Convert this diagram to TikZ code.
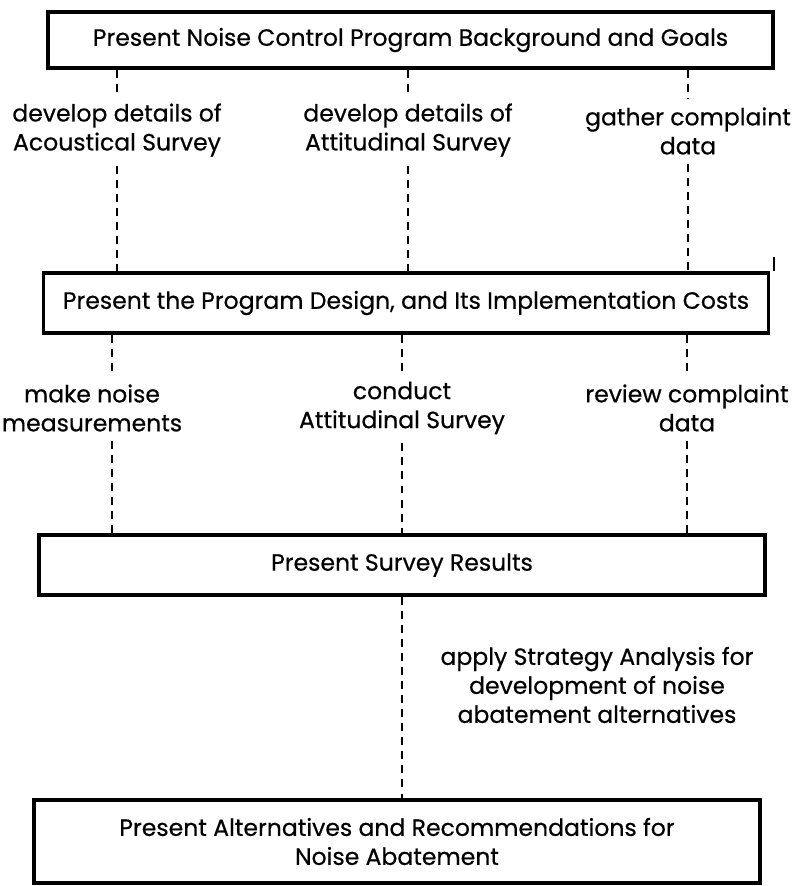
\documentclass[tikz,border=0pt]{standalone}
\usepackage{fontspec}
\setmainfont{Poppins}[UprightFeatures={FakeBold=0.5}]
\usetikzlibrary{positioning, calc}
\tikzset{stage/.style={draw, line width=2pt, minimum width=14.5cm, minimum height=1.2cm, align=center, font=\fontsize{13.4}{16.5}\selectfont}}
\tikzset{task/.style={align=center, inner sep=5pt, font=\fontsize{13.4}{16.5}\selectfont}}
\tikzset{link/.style={draw, line width=1.1pt, dash pattern=on 4.5pt off 3.5pt}}

\begin{document}
\begin{tikzpicture}[x=0.02cm, y=-0.02cm]
	\useasboundingbox (0,0) rectangle (795,886);
	\node[stage, minimum height=1.12cm] (P1) at (410.5,40){Present Noise Control Program Background and Goals};
	\node[stage] (P2) at (406,303){Present the Program Design, and Its Implementation Costs};
	\node[stage, minimum width=14.52cm] (P3) at (402,565){Present Survey Results};
	\node[stage, minimum width=14.52cm, minimum height=1.66cm] (P4) at (397,841.5){Present Alternatives and Recommendations for\\ Noise Abatement};
	
	\node[task] (T1) at (117,130){develop details of\\ Acoustical Survey};
	\node[task] (T2) at (408,130){develop details of\\ Attitudinal Survey};
	\node[task] (T3) at (688,131){gather complaint\\ data};
	\node[task] (T4) at (92,408){make noise\\ measurements};
	\node[task] (T5) at (402,408){conduct\\ Attitudinal Survey};
	\node[task] (T6) at (687,408){review complaint\\ data};
	\node[task] (T7) at (597,685){apply Strategy Analysis for\\ development of noise\\ abatement alternatives};
	\coordinate (m4) at (112,408);
	
	\begin{scope}[link]
		\draw (T1.north |- P1.south) -- (T1.north);
		\draw (T1.south) -- (T1.south |- P2.north);
		\draw (T2.north |- P1.south) -- (T2.north);
		\draw (T2.south) -- (T2.south |- P2.north);
		\draw (T3.north |- P1.south) -- (T3.north);
		\draw (T3.south) -- (T3.south |- P2.north);
		\draw (m4 |- P2.south) -- (m4 |- T4.north);
		\draw (m4 |- T4.south) -- (m4 |- P3.north);
		\draw (T5.north |- P2.south) -- (T5.north);
		\draw (T5.south) -- (T5.south |- P3.north);
		\draw (T6.north |- P2.south) -- (T6.north);
		\draw (T6.south) -- (T6.south |- P3.north);
		\draw (P3.south) -- (P3.south |- P4.north);
	\end{scope}
	\draw[line width=1pt] ([xshift=2pt]P2.north east) -- ++(0,-14);
\end{tikzpicture}
\end{document}
